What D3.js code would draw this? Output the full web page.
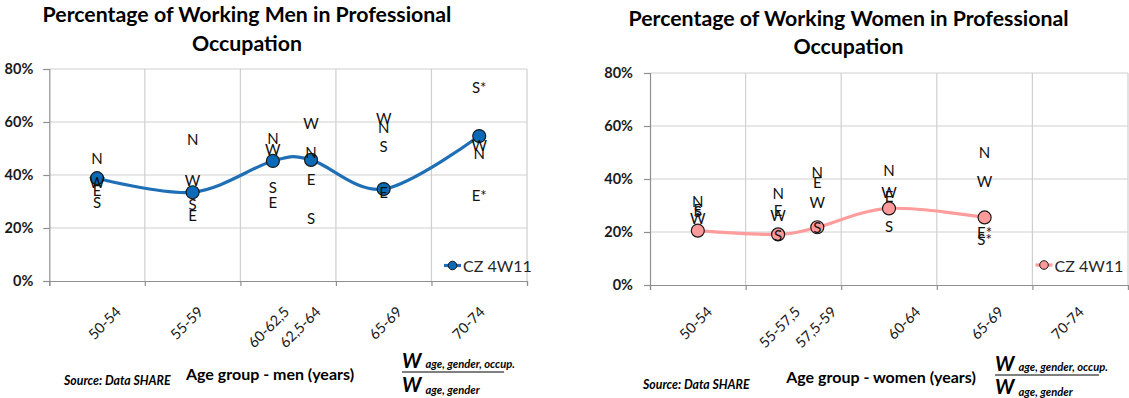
<!DOCTYPE html>
<html>
<head>
<meta charset="utf-8">
<script src="https://cdn.jsdelivr.net/npm/d3@7"></script>
<style>
  body { margin: 0; background: #fff; }
  svg { display: block; font-family: Lato, "Open Sans", sans-serif; }
</style>
</head>
<body>
<svg id="chart" width="1129" height="398"></svg>
<script>
// Share of working people in professional occupations, Czech Republic (SHARE wave 4).
// Ages are the plotting position of each age class (years), shares are percent.
const menGroups   = ["50-54", "55-59", "60-62,5", "62,5-64", "65-69", "70-74"];
const menAges     = [52.5, 57.5, 61.7, 63.7, 67.5, 72.5];
const menShare    = [38.8, 33.5, 45.3, 45.7, 34.7, 54.7];
const menNorth    = [46.3, 53.6, 54.1, 48.6, 58.2, 48.2];
const menWest     = [37.5, 38.1, 49.7, 59.5, 61.4, 51.3];
const menEast     = [34.3, 24.9, 29.9, 38.4, 33.7, 32.5];
const menSouth    = [29.9, 28.9, 35.4, 23.7, 50.9, 73.3];
const menFewCases = [false, false, false, false, false, true];
const menLabelAt  = [53.6, 57.9, 62.4, 64.05, 68.3, 72.65];

const womenGroups   = ["50-54", "55-57,5", "57,5-59", "60-64", "65-69", "70-74"];
const womenAges     = [52.5, 56.7, 58.75, 62.5, 67.5];
const womenShare    = [20.5, 19.1, 21.8, 28.9, 25.5];
const womenNorth    = [31.8, 34.6, 42.5, 43.4, 50.1];
const womenWest     = [25.2, 26.4, 31.2, 35.2, 39.4];
const womenEast     = [28.6, 28.3, 39.0, 33.6, 20.1];
const womenSouth    = [27.8, 18.9, 21.8, 22.4, 17.2];
const womenFewCases = [false, false, false, false, true];
const womenLabelAt  = [53.1, 57.7, 59.6, 64.0, 68.35, 72.55];

const yTicks     = [0, 20, 40, 60, 80];
const ageBreaks  = [50, 55, 60, 65, 70, 75];
const seriesName = "CZ 4W11";

const FONT = "Lato, 'Open Sans', sans-serif";
const svg = d3.select("#chart");

function drawPanel(c) {
  const g = svg.append("g");
  const x = d3.scaleLinear().domain([50, 75]).range([c.left, c.right]);
  const y = d3.scaleLinear().domain([0, 80]).range([c.bottom, c.top]);

  // grid
  g.append("g").selectAll("line").data(ageBreaks.slice(1)).join("line")
    .attr("x1", d => x(d)).attr("x2", d => x(d))
    .attr("y1", y(0)).attr("y2", y(80))
    .attr("stroke", "#cfcfcf").attr("stroke-width", 1.2);
  g.append("g").selectAll("line").data(yTicks.slice(1)).join("line")
    .attr("x1", x(50)).attr("x2", x(75))
    .attr("y1", d => y(d)).attr("y2", d => y(d))
    .attr("stroke", "#cfcfcf").attr("stroke-width", 1.2);

  // axes
  const ya = g.append("g").attr("transform", `translate(${c.left},0)`)
    .call(d3.axisLeft(y).tickValues(yTicks).tickFormat(d => d + "%").tickSize(6).tickPadding(c.yPad));
  ya.select(".domain").attr("stroke", "#8f8f8f").attr("stroke-width", 1.2);
  ya.selectAll(".tick line").attr("stroke", "#8f8f8f").attr("stroke-width", 1.2);
  ya.selectAll(".tick text")
    .attr("font-family", FONT).attr("font-size", 14.5).attr("font-weight", "bold").attr("fill", "#1a1a1a");

  const xa = g.append("g").attr("transform", `translate(0,${c.bottom})`)
    .call(d3.axisBottom(x).tickValues(ageBreaks).tickSize(5).tickFormat(""));
  xa.select(".domain").attr("stroke", "#8f8f8f").attr("stroke-width", 1.2);
  xa.selectAll(".tick line").attr("stroke", "#8f8f8f").attr("stroke-width", 1.2);

  // age-class labels
  g.append("g").selectAll("text").data(c.groups).join("text")
    .attr("transform", (d, i) => `translate(${x(c.labelAt[i])},${c.labelY}) rotate(-45)`)
    .attr("text-anchor", "end").attr("dominant-baseline", "central")
    .attr("font-family", FONT).attr("font-size", 14.5).attr("fill", "#1a1a1a")
    .text(d => d);

  // smoothed series line
  const pts = c.ages.map((a, i) => [a, c.share[i]]);
  g.append("path").datum(pts)
    .attr("d", d3.line().x(d => x(d[0])).y(d => y(d[1])).curve(d3.curveCardinal.tension(0)))
    .attr("fill", "none").attr("stroke", c.lineColor).attr("stroke-width", 3.2);
  g.append("g").selectAll("circle").data(pts).join("circle")
    .attr("cx", d => x(d[0])).attr("cy", d => y(d[1])).attr("r", 6.5)
    .attr("fill", c.markerColor).attr("stroke", "#1a1a1a").attr("stroke-width", 1.2);

  // regional values (North, West, East, South)
  const regional = [];
  c.ages.forEach((a, i) => {
    const star = c.fewCases[i] ? "*" : "";
    regional.push({ a, v: c.north[i], t: "N" });
    regional.push({ a, v: c.west[i],  t: "W" });
    regional.push({ a, v: c.east[i],  t: "E" + star });
    regional.push({ a, v: c.south[i], t: "S" + star });
  });
  g.append("g").selectAll("text").data(regional).join("text")
    .attr("x", d => x(d.a)).attr("y", d => y(d.v))
    .attr("text-anchor", "middle").attr("dominant-baseline", "central")
    .attr("font-family", FONT).attr("font-size", 15).attr("fill", "#111")
    .text(d => d.t);

  // legend
  const lg = g.append("g").attr("transform", `translate(${c.legendX},${c.legendY})`);
  lg.append("line").attr("x1", -8.5).attr("x2", 8.5).attr("y1", 0).attr("y2", 0)
    .attr("stroke", c.lineColor).attr("stroke-width", 3.2);
  lg.append("circle").attr("r", 4.3).attr("fill", c.markerColor)
    .attr("stroke", "#1a1a1a").attr("stroke-width", 1);
  lg.append("text").attr("x", 10.5).attr("y", 0).attr("dominant-baseline", "central")
    .attr("font-family", FONT).attr("font-size", 16).attr("fill", "#262626")
    .text(seriesName);

  // title
  g.append("g").selectAll("text").data(c.title).join("text")
    .attr("x", c.titleX).attr("y", (d, i) => c.titleY[i])
    .attr("text-anchor", "middle").attr("dominant-baseline", "central")
    .attr("font-family", FONT).attr("font-size", 21.3).attr("font-weight", "bold").attr("fill", "#000")
    .text(d => d);

  // axis title and source
  g.append("text").attr("x", c.axisTitleX).attr("y", c.axisTitleY)
    .attr("text-anchor", "middle").attr("dominant-baseline", "central")
    .attr("font-family", FONT).attr("font-size", 16).attr("font-weight", "bold").attr("fill", "#000")
    .text(c.axisTitle);
  g.append("text").attr("x", c.sourceX).attr("y", c.sourceY)
    .attr("dominant-baseline", "central")
    .attr("font-family", FONT).attr("font-size", 12.3).attr("font-weight", "bold")
    .attr("font-style", "italic").attr("fill", "#000")
    .text("Source: Data SHARE");

  // weight ratio W(age, gender, occup.) / W(age, gender)
  const f = g.append("g").attr("transform", `translate(${c.formulaX},${c.formulaY})`)
    .attr("font-family", FONT).attr("font-weight", "bold").attr("font-style", "italic").attr("fill", "#000");
  const num = f.append("text").attr("x", 0).attr("y", -4);
  num.append("tspan").attr("font-size", 20).text("W");
  num.append("tspan").attr("font-size", 11.2).attr("dx", 4).text("age, gender, occup.");
  f.append("line").attr("x1", 0).attr("x2", c.fracWidth).attr("y1", 0).attr("y2", 0)
    .attr("stroke", "#000").attr("stroke-width", 1);
  const den = f.append("text").attr("x", 0).attr("y", c.denY);
  den.append("tspan").attr("font-size", 20).text("W");
  den.append("tspan").attr("font-size", 11.2).attr("dx", 4).attr("dy", 1.5).text("age, gender");
}

drawPanel({
  groups: menGroups, ages: menAges, share: menShare,
  north: menNorth, west: menWest, east: menEast, south: menSouth,
  fewCases: menFewCases, labelAt: menLabelAt,
  left: 49.3, right: 527, top: 69, bottom: 281, yPad: 10, labelY: 309,
  lineColor: "#1f6fb6", markerColor: "#0b69b8",
  legendX: 452.5, legendY: 265.5,
  title: ["Percentage of Working Men in Professional", "Occupation"],
  titleX: 247, titleY: [14, 43],
  axisTitle: "Age group - men (years)", axisTitleX: 270, axisTitleY: 373,
  sourceX: 64, sourceY: 380,
  formulaX: 402, formulaY: 372, fracWidth: 102, denY: 20
});

drawPanel({
  groups: womenGroups, ages: womenAges, share: womenShare,
  north: womenNorth, west: womenWest, east: womenEast, south: womenSouth,
  fewCases: womenFewCases, labelAt: womenLabelAt,
  left: 650, right: 1128, top: 73, bottom: 285, yPad: 11, labelY: 309,
  lineColor: "#ff9c9c", markerColor: "#ff9a9a",
  legendX: 1044, legendY: 265,
  title: ["Percentage of Working Women in Professional", "Occupation"],
  titleX: 848.5, titleY: [18, 46],
  axisTitle: "Age group - women (years)", axisTitleX: 881, axisTitleY: 376,
  sourceX: 643, sourceY: 384,
  formulaX: 995, formulaY: 375, fracWidth: 104, denY: 19
});
</script>
</body>
</html>
